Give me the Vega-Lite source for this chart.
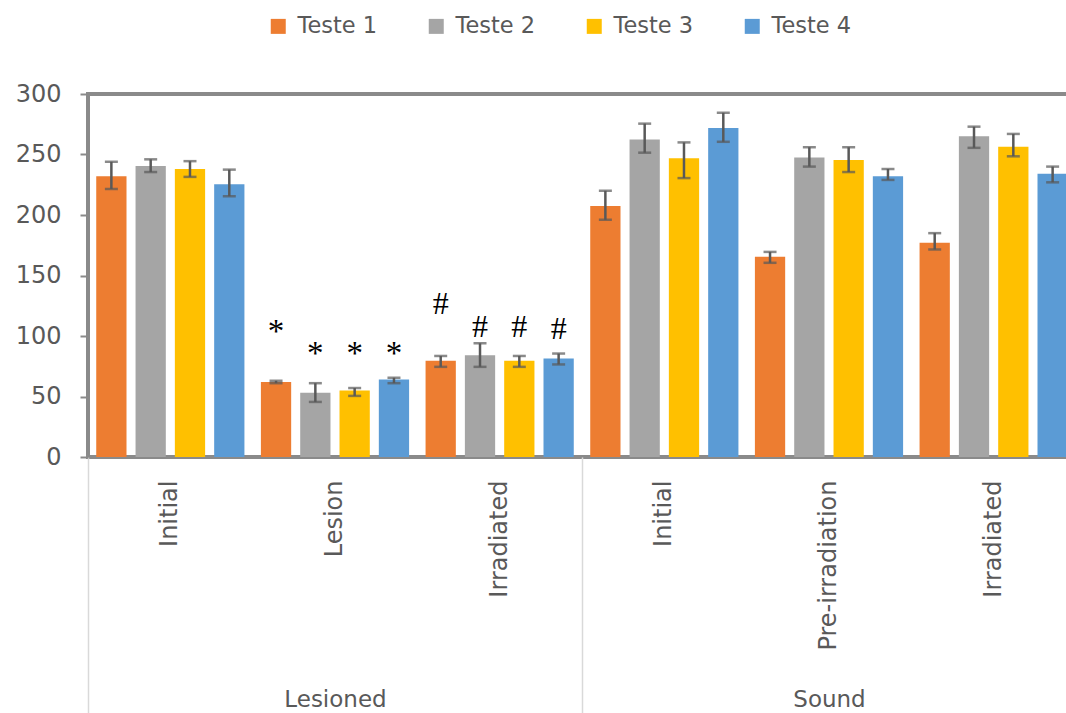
{
  "$schema": "https://vega.github.io/schema/vega-lite/v6.json",
  "width": 988,
  "height": 363,
  "autosize": {"type": "none"},
  "padding": {"left": 88, "top": 94, "right": -10, "bottom": 256},
  "background": "white",
  "config": {
    "view": {"stroke": "#8a8a8a", "strokeWidth": 4},
    "font": "DejaVu Sans",
    "axis": {"labelColor": "#595959", "labelFont": "DejaVu Sans", "grid": false, "title": null},
    "legend": {"labelColor": "#595959", "labelFont": "DejaVu Sans", "labelFontSize": 22.5}
  },
  "datasets": {
    "bars": [
      {"group": "Lesioned", "cat": "Lesioned|Initial", "test": "Teste 1", "mean": 232, "lo": 221.5, "hi": 244},
      {"group": "Lesioned", "cat": "Lesioned|Initial", "test": "Teste 2", "mean": 240.5, "lo": 235.5, "hi": 246},
      {"group": "Lesioned", "cat": "Lesioned|Initial", "test": "Teste 3", "mean": 238, "lo": 231.5, "hi": 244.5},
      {"group": "Lesioned", "cat": "Lesioned|Initial", "test": "Teste 4", "mean": 225.5, "lo": 215.5, "hi": 237.5},
      {"group": "Lesioned", "cat": "Lesioned|Lesion", "test": "Teste 1", "mean": 62, "lo": 61, "hi": 63},
      {"group": "Lesioned", "cat": "Lesioned|Lesion", "test": "Teste 2", "mean": 53, "lo": 45.5, "hi": 61},
      {"group": "Lesioned", "cat": "Lesioned|Lesion", "test": "Teste 3", "mean": 55, "lo": 50.5, "hi": 57},
      {"group": "Lesioned", "cat": "Lesioned|Lesion", "test": "Teste 4", "mean": 64, "lo": 61, "hi": 65.5},
      {"group": "Lesioned", "cat": "Lesioned|Irradiated", "test": "Teste 1", "mean": 79.5, "lo": 74.5, "hi": 83.5},
      {"group": "Lesioned", "cat": "Lesioned|Irradiated", "test": "Teste 2", "mean": 84, "lo": 74.5, "hi": 94},
      {"group": "Lesioned", "cat": "Lesioned|Irradiated", "test": "Teste 3", "mean": 79.5, "lo": 74.5, "hi": 83.5},
      {"group": "Lesioned", "cat": "Lesioned|Irradiated", "test": "Teste 4", "mean": 81.5, "lo": 76.5, "hi": 85.5},
      {"group": "Sound", "cat": "Sound|Initial", "test": "Teste 1", "mean": 207.5, "lo": 196, "hi": 220},
      {"group": "Sound", "cat": "Sound|Initial", "test": "Teste 2", "mean": 262.5, "lo": 251.5, "hi": 275.5},
      {"group": "Sound", "cat": "Sound|Initial", "test": "Teste 3", "mean": 247, "lo": 230.5, "hi": 260},
      {"group": "Sound", "cat": "Sound|Initial", "test": "Teste 4", "mean": 272, "lo": 260.5, "hi": 284.5},
      {"group": "Sound", "cat": "Sound|Pre-irradiation", "test": "Teste 1", "mean": 165.5, "lo": 160.5, "hi": 169.5},
      {"group": "Sound", "cat": "Sound|Pre-irradiation", "test": "Teste 2", "mean": 247.5, "lo": 240, "hi": 256},
      {"group": "Sound", "cat": "Sound|Pre-irradiation", "test": "Teste 3", "mean": 245.5, "lo": 235.5, "hi": 256},
      {"group": "Sound", "cat": "Sound|Pre-irradiation", "test": "Teste 4", "mean": 232, "lo": 229, "hi": 238},
      {"group": "Sound", "cat": "Sound|Irradiated", "test": "Teste 1", "mean": 177, "lo": 171.5, "hi": 185},
      {"group": "Sound", "cat": "Sound|Irradiated", "test": "Teste 2", "mean": 265, "lo": 255.5, "hi": 273},
      {"group": "Sound", "cat": "Sound|Irradiated", "test": "Teste 3", "mean": 256.5, "lo": 248.5, "hi": 267},
      {"group": "Sound", "cat": "Sound|Irradiated", "test": "Teste 4", "mean": 234, "lo": 227, "hi": 240}
    ],
    "signif": [
      {"cat": "Lesioned|Lesion", "test": "Teste 1", "sym": "*", "at": 109},
      {"cat": "Lesioned|Lesion", "test": "Teste 2", "sym": "*", "at": 91},
      {"cat": "Lesioned|Lesion", "test": "Teste 3", "sym": "*", "at": 91},
      {"cat": "Lesioned|Lesion", "test": "Teste 4", "sym": "*", "at": 91},
      {"cat": "Lesioned|Irradiated", "test": "Teste 1", "sym": "#", "at": 127.5},
      {"cat": "Lesioned|Irradiated", "test": "Teste 2", "sym": "#", "at": 108},
      {"cat": "Lesioned|Irradiated", "test": "Teste 3", "sym": "#", "at": 108},
      {"cat": "Lesioned|Irradiated", "test": "Teste 4", "sym": "#", "at": 106.5}
    ]
  },
  "layer": [
    {
      "encoding": {
        "x": {
          "field": "cat",
          "type": "nominal",
          "sort": ["Lesioned|Initial", "Lesioned|Lesion", "Lesioned|Irradiated", "Sound|Initial", "Sound|Pre-irradiation", "Sound|Irradiated"],
          "scale": {"paddingInner": 0.1, "paddingOuter": 0.05},
          "axis": {
            "orient": "bottom",
            "domain": false,
            "ticks": false,
            "tickSize": 0,
            "labelAngle": -90,
            "labelAlign": "right",
            "labelBaseline": "middle",
            "labelPadding": 23,
            "labelFontSize": 24,
            "labelExpr": "split(datum.label, '|')[1]"
          }
        },
        "xOffset": {
          "field": "test",
          "type": "nominal",
          "sort": ["Teste 1", "Teste 2", "Teste 3", "Teste 4"],
          "scale": {"paddingInner": 0.23, "paddingOuter": 0}
        }
      },
      "layer": [
        {
          "data": {"name": "bars"},
          "mark": {"type": "bar"},
          "encoding": {
            "y": {
              "field": "mean",
              "type": "quantitative",
              "scale": {"domain": [0, 300], "nice": false},
              "axis": {
                "values": [0, 50, 100, 150, 200, 250, 300],
                "domain": false,
                "tickSize": 8,
                "tickColor": "#8a8a8a",
                "tickWidth": 2,
                "labelPadding": 19,
                "labelFontSize": 24
              }
            },
            "color": {
              "field": "test",
              "type": "nominal",
              "scale": {
                "domain": ["Teste 1", "Teste 2", "Teste 3", "Teste 4"],
                "range": ["#ED7D31", "#A5A5A5", "#FFC000", "#5B9BD5"]
              },
              "legend": {
                "title": null,
                "orient": "none",
                "direction": "horizontal",
                "legendX": 179,
                "legendY": -79,
                "symbolType": "square",
                "symbolSize": 225,
                "symbolStrokeWidth": 0,
                "labelOffset": 8,
                "columnPadding": 47
              }
            }
          }
        },
        {
          "data": {"name": "bars"},
          "mark": {"type": "rule", "color": "#595959", "strokeWidth": 2.5},
          "encoding": {
            "y": {"field": "lo", "type": "quantitative"},
            "y2": {"field": "hi"}
          }
        },
        {
          "data": {"name": "bars"},
          "mark": {"type": "tick", "orient": "horizontal", "color": "#595959", "size": 13, "thickness": 2.5},
          "encoding": {"y": {"field": "lo", "type": "quantitative"}}
        },
        {
          "data": {"name": "bars"},
          "mark": {"type": "tick", "orient": "horizontal", "color": "#595959", "size": 13, "thickness": 2.5},
          "encoding": {"y": {"field": "hi", "type": "quantitative"}}
        },
        {
          "data": {"name": "signif"},
          "transform": [{"filter": "datum.sym === '*'"}],
          "mark": {"type": "text", "font": "Liberation Serif", "fontSize": 33, "color": "#000000", "baseline": "alphabetic", "dy": 17},
          "encoding": {
            "y": {"field": "at", "type": "quantitative"},
            "text": {"field": "sym"}
          }
        },
        {
          "data": {"name": "signif"},
          "transform": [{"filter": "datum.sym === '#'"}],
          "mark": {"type": "text", "font": "Liberation Serif", "fontSize": 32, "color": "#000000", "baseline": "alphabetic", "dy": 11},
          "encoding": {
            "y": {"field": "at", "type": "quantitative"},
            "text": {"field": "sym"}
          }
        }
      ]
    },
    {
      "data": {"name": "bars"},
      "mark": {"type": "rule", "opacity": 0},
      "encoding": {
        "x": {
          "field": "group",
          "type": "nominal",
          "sort": ["Lesioned", "Sound"],
          "scale": {"paddingInner": 0, "paddingOuter": 0},
          "axis": {
            "orient": "bottom",
            "domain": false,
            "tickBand": "extent",
            "tickSize": 256,
            "tickColor": "#d9d9d9",
            "tickWidth": 1.5,
            "labelAngle": 0,
            "labelPadding": -25,
            "labelFontSize": 23
          }
        }
      }
    }
  ],
  "resolve": {"scale": {"x": "independent"}, "axis": {"x": "independent"}}
}
